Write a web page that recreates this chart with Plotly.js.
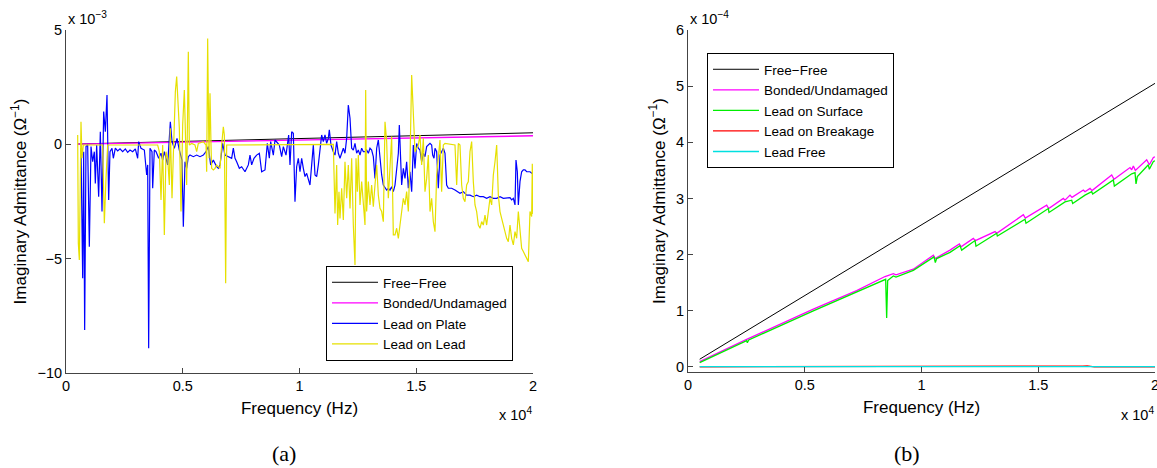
<!DOCTYPE html>
<html>
<head>
<meta charset="utf-8">
<script src="https://cdn.plot.ly/plotly-3.0.1.min.js"></script>
<style>
  html, body { margin: 0; padding: 0; background: #fff; }
  #chart { width: 1157px; height: 468px; }
</style>
</head>
<body>
<div id="chart"></div>
<script>
// Imaginary admittance spectra of the PZT sensor, (a) plate / lead cases, (b) bonding states.

// Shared reference curves, units of 1e-4 S
const freeFreeHz = [500, 5000, 10000, 15000, 20000];
const freeFree   = [0.137, 1.27, 2.53, 3.79, 5.05];

const bondedHz = [500, 2512, 5367, 7223, 8437, 8794, 8908, 9650, 10507, 10578,
                  11221, 11621, 11692, 12220, 12306, 13148, 13220, 14362, 14447, 15361,
                  15447, 16075, 16146, 16360, 16446, 16931, 17003, 17217, 17303, 18145,
                  18245, 18930, 19002, 19073, 19159, 19644, 19758, 19930, 20000];
const bonded   = [0.095, 0.49, 1.03, 1.36, 1.61, 1.66, 1.64, 1.74, 1.99, 1.93,
                  2.08, 2.19, 2.14, 2.29, 2.25, 2.41, 2.38, 2.71, 2.65, 2.88,
                  2.82, 3.00, 2.97, 3.06, 3.02, 3.15, 3.12, 3.18, 3.14, 3.42,
                  3.34, 3.55, 3.51, 3.58, 3.50, 3.69, 3.60, 3.73, 3.74];

// Panel (b) only, units of 1e-4 S
const leadSurfaceHz = [500, 2512, 2541, 2600, 5367, 7223, 8465, 8508, 8551, 8794,
                       8908, 9650, 10535, 10592, 10650, 11221, 11649, 11721, 12292, 12334,
                       13220, 13248, 14433, 14476, 15432, 15461, 16146, 16432, 16475, 17003,
                       17288, 17331, 18216, 18259, 19002, 19144, 19187, 19244, 19715, 19758,
                       19930, 20000];
const leadSurface   = [0.077, 0.47, 0.43, 0.48, 1.00, 1.34, 1.56, 0.87, 1.54, 1.62,
                       1.60, 1.72, 1.96, 1.86, 1.93, 2.04, 2.16, 2.08, 2.25, 2.15,
                       2.38, 2.33, 2.63, 2.56, 2.82, 2.75, 2.94, 2.97, 2.91, 3.06,
                       3.12, 3.08, 3.33, 3.22, 3.44, 3.46, 3.26, 3.39, 3.60, 3.52,
                       3.66, 3.67];

const leadBreakageHz = [500, 16800, 16900, 17100, 17300, 17400, 20000];
const leadBreakage   = [0.003, 0.003, 0.015, 0.02, 0.012, 0.003, 0.003];

const leadFreeHz = [500, 10000, 20000];
const leadFree   = [0.005, 0.006, 0.006];

// Panel (a) only, units of 1e-3 S
const leadPlateHz = [
  642, 714, 757, 799, 857, 928, 999, 1071, 1142, 1213,
  1256, 1313, 1399, 1470, 1542, 1613, 1685, 1756, 1827, 1884,
  1970, 2027, 2113, 2213, 2313, 2427, 2541, 2641, 2741, 2855,
  2969, 3069, 3112, 3212, 3355, 3455, 3498, 3540, 3598, 3683,
  3712, 3783, 3855, 3969, 4069, 4140, 4211, 4354, 4468, 4540,
  4640, 4754, 4854, 4968, 5025, 5096, 5168, 5239, 5310, 5453,
  5596, 5739, 5881, 5996, 6095, 6195, 6310, 6452, 6524, 6595,
  6667, 6709, 6809, 6952, 7095, 7166, 7238, 7309, 7423, 7523,
  7666, 7809, 7880, 7951, 8051, 8165, 8280, 8380, 8522, 8622,
  8708, 8765, 8879, 8951, 9022, 9136, 9236, 9308, 9422, 9479,
  9536, 9593, 9665, 9736, 9807, 9878, 9950, 10021, 10093, 10164,
  10235, 10307, 10378, 10449, 10521, 10592, 10664, 10735, 10806, 10878,
  10949, 11020, 11092, 11163, 11235, 11277, 11349, 11449, 11520, 11592,
  11663, 11734, 11806, 11877, 11948, 12020, 12091, 12163, 12234, 12305,
  12377, 12448, 12519, 12591, 12662, 12734, 12805, 12876, 12948, 13019,
  13090, 13162, 13233, 13305, 13376, 13447, 13519, 13590, 13662, 13733,
  13804, 13876, 13947, 14018, 14090, 14161, 14233, 14275, 14332, 14375,
  14447, 14518, 14589, 14661, 14732, 14804, 14875, 14946, 15018, 15089,
  15160, 15232, 15303, 15374, 15446, 15517, 15589, 15660, 15703, 15760,
  15803, 15874, 15945, 16017, 16088, 16160, 16231, 16302, 16374, 16517,
  16659, 16802, 16873, 17016, 17159, 17302, 17444, 17587, 17730, 17873,
  18015, 18158, 18301, 18444, 18587, 18729, 18872, 19015, 19086, 19158,
  19229, 19272, 19329, 19372, 19443, 19514, 19586, 19657, 19729, 19872,
  19957, 20000];
const leadPlate = [
  -0.17, -5.86, -0.32, -8.12, -0.10, -0.03, -4.48, -0.10, -0.76, -0.32,
  -1.71, -0.03, -2.29, 0.55, -2.94, 1.43, 0.55, 2.16, -2.43, -0.32,
  -0.17, -0.61, -0.17, -0.29, -0.20, -0.32, -0.20, -0.35, -0.25, -0.32,
  -0.20, -0.61, 0.12, -0.17, -0.25, -1.34, -0.90, -8.92, -0.17, -0.32,
  -1.92, -0.25, -0.32, -0.61, -0.39, -0.69, -0.32, -0.90, 0.99, 0.12,
  -0.17, 0.26, -0.25, -0.69, -3.60, -0.76, -1.05, -0.54, -0.47, -0.54,
  -0.47, -0.54, -0.47, -0.32, -0.10, -0.90, -0.69, -0.98, -1.05, -0.90,
  -0.32, 0.04, -0.47, -0.54, -0.61, -0.17, -0.61, -0.76, -1.05, -0.98,
  -1.20, -0.90, -0.47, -0.90, -0.61, -0.47, -0.39, -1.20, -1.12, 0.04,
  -0.61, 0.12, -0.47, 0.19, 0.12, -0.03, -0.54, -0.10, -0.47, -0.03,
  0.41, -0.90, 0.55, 0.48, -2.51, -0.98, -0.61, -1.20, -0.61, -1.05,
  -1.41, -1.27, -1.56, -1.78, -0.90, -0.03, -1.34, -1.41, -0.90, -0.32,
  0.41, 0.12, 0.41, 0.04, 0.26, 0.63, -0.03, -0.32, -0.47, 0.12,
  -0.39, -0.61, -0.39, -0.17, -0.39, 0.26, 1.72, 1.14, -0.17, -0.25,
  0.04, -0.39, -0.25, -0.47, -0.17, -0.32, -0.32, -0.25, -0.39, -0.17,
  -0.25, -0.54, -1.49, -0.17, 0.19, -0.76, -1.34, -1.78, -1.92, -2.00,
  -1.92, -2.00, -1.85, -2.07, -1.78, -1.20, -0.39, 0.85, -0.61, -1.78,
  -1.05, -1.49, -0.76, -1.92, -1.20, -2.07, -0.03, -1.05, 0.04, -0.17,
  -0.25, -0.76, -0.39, -0.54, -0.10, -0.03, 0.04, -0.03, -0.47, -0.61,
  -0.17, -0.32, -1.92, -0.47, -0.32, -0.17, -0.39, -1.78, -1.92, -1.92,
  -2.00, -2.07, -2.14, -2.07, -2.22, -2.22, -2.29, -2.22, -2.29, -2.29,
  -2.36, -2.29, -2.36, -2.36, -2.29, -2.36, -2.36, -2.33, -2.43, -2.36,
  -2.65, -0.69, -1.20, -2.65, -1.63, -1.20, -1.12, -1.12, -1.20, -1.20,
  -1.27, -1.25];

const leadLeadHz = [
  500, 528, 571, 614, 642, 685, 742, 1570, 1642, 1713,
  1785, 3926, 3997, 4069, 4140, 4211, 4283, 4354, 4426, 4468,
  4540, 4597, 4640, 4683, 4740, 4854, 4925, 4997, 5068, 5168,
  5239, 5282, 5382, 5524, 5596, 5667, 5881, 5996, 6024, 6067,
  6124, 6167, 6210, 6238, 6310, 6381, 6452, 6595, 6667, 6738,
  6781, 6838, 6881, 11449, 11520, 11592, 11634, 11691, 11734, 11806,
  11877, 11948, 12020, 12091, 12163, 12234, 12305, 12377, 12420, 12477,
  12519, 12591, 12662, 12734, 12805, 12834, 12876, 12948, 13019, 13090,
  13162, 13233, 13305, 13376, 13447, 13519, 13590, 13662, 13733, 13804,
  13876, 13947, 14018, 14090, 14161, 14233, 14304, 14375, 14447, 14518,
  14589, 14661, 14732, 14804, 14875, 14946, 15018, 15089, 15160, 15232,
  15303, 15374, 15446, 15517, 15589, 15660, 15731, 15803, 15874, 15945,
  16017, 16088, 16160, 16231, 16659, 16731, 16802, 16873, 16945, 17016,
  17087, 17159, 17230, 17302, 17373, 17444, 17516, 17587, 17659, 17730,
  17801, 17873, 17944, 18015, 18087, 18158, 18230, 18301, 18372, 18444,
  18515, 18587, 18658, 18729, 18801, 18872, 18943, 19015, 19086, 19158,
  19229, 19300, 19372, 19443, 19514, 19586, 19657, 19729, 19800, 19872,
  19943, 19970, 20000];
const leadLead = [
  0.41, -4.33, -5.06, -0.32, 0.99, -0.61, -0.03, -0.03, -3.45, -1.49,
  -0.03, -0.03, -0.32, -2.43, -0.03, -3.96, -0.32, -0.61, -1.78, 0.70,
  -2.36, -0.47, 1.14, 2.30, 2.96, 0.70, -2.94, 0.85, 2.38, -1.78,
  4.05, -0.03, 0.04, -0.03, -0.32, 0.04, 0.12, -0.03, -1.20, 4.63,
  -0.61, 2.23, -0.03, -1.05, -1.12, -1.05, -0.90, -1.05, -0.03, 0.77,
  0.41, -6.08, -0.03, 0.00, -3.02, -0.90, -3.53, -2.07, -3.24, -1.92,
  -3.31, -0.76, -2.36, -0.90, -2.80, -0.61, -3.53, -5.28, -0.61, -2.07,
  -0.47, -2.65, -1.63, -2.80, -3.53, 2.38, -2.94, -1.63, -2.65, -1.78,
  -2.73, -1.78, -0.90, -2.22, -2.80, -2.94, -3.38, 0.99, 0.12, -2.36,
  -0.90, 0.34, -3.96, -3.96, -3.67, -4.11, -3.53, -2.94, -2.36, -2.65,
  -2.07, -2.94, -0.76, 3.03, 0.99, -0.32, -0.17, -0.03, 0.41, -0.90,
  0.26, -2.07, -1.49, -0.47, -2.94, -2.36, -3.38, -3.82, -1.34, -0.47,
  0.19, -2.07, -0.03, 0.04, -0.03, -1.78, 0.04, -0.03, -1.78, -2.36,
  -2.51, -1.78, -1.63, -0.32, 0.12, -1.63, -2.65, -2.94, -3.53, -3.67,
  -3.38, -3.53, -3.09, -3.53, -2.94, -2.36, -2.65, -1.34, -0.76, -0.03,
  -2.22, -2.94, -3.24, -3.53, -3.82, -4.11, -4.26, -3.53, -4.11, -4.40,
  -3.82, -4.11, -2.94, -3.82, -4.55, -4.69, -4.84, -4.98, -5.13, -2.94,
  -3.16, -0.85, -3.05];

const freqTicks = [0, 5000, 10000, 15000, 20000];
const freqTickText = ['0', '0.5', '1', '1.5', '2'];
const leftTicks = [-10, -5, 0, 5];
const leftTickText = ['\u221210', '\u22125', '0', '5'];
const rightTicks = [0, 1, 2, 3, 4, 5, 6];
const rightTickText = ['0', '1', '2', '3', '4', '5', '6'];

const FONT = 'Liberation Sans, Arial, sans-serif';
const AXIS_COLOR = '#444';

// curves in 1e-4 S shown on the 1e-3 S axis of panel (a)
const toMilli = arr => arr.map(v => v / 10);

function line(name, x, y, color, xa, ya, legend, width) {
  return {
    type: 'scatter', mode: 'lines', name: name, x: x, y: y,
    xaxis: xa, yaxis: ya, legend: legend,
    line: { color: color, width: width || 1 }, hoverinfo: 'skip'
  };
}

const traces = [
  line('Free\u2212Free', freeFreeHz, toMilli(freeFree), '#000000', 'x', 'y', 'legend', 1),
  line('Bonded/Undamaged', bondedHz, toMilli(bonded), '#ff00ff', 'x', 'y', 'legend', 1.4),
  line('Lead on Plate', leadPlateHz, leadPlate, '#0000ff', 'x', 'y', 'legend', 1.2),
  line('Lead on Lead', leadLeadHz, leadLead, '#e6e000', 'x', 'y', 'legend', 1.2),

  line('Free\u2212Free', freeFreeHz, freeFree, '#000000', 'x2', 'y2', 'legend2', 1),
  line('Bonded/Undamaged', bondedHz, bonded, '#ff00ff', 'x2', 'y2', 'legend2', 1.3),
  line('Lead on Surface', leadSurfaceHz, leadSurface, '#00ee00', 'x2', 'y2', 'legend2', 1.3),
  line('Lead on Breakage', leadBreakageHz, leadBreakage, '#ff0000', 'x2', 'y2', 'legend2', 1.3),
  line('Lead Free', leadFreeHz, leadFree, '#00e0e0', 'x2', 'y2', 'legend2', 1.3)
];

const W = 1157, H = 468;
const px = v => v / W;
const py = v => (H - v) / H;

function xAxis(domain, titleText) {
  return {
    domain: domain, range: [0, 20000], fixedrange: true,
    tickvals: freqTicks, ticktext: freqTickText,
    ticks: 'inside', ticklen: 5, tickcolor: AXIS_COLOR, tickwidth: 1,
    ticklabeloverflow: 'allow',
    showline: true, linecolor: AXIS_COLOR, linewidth: 1,
    showgrid: false, zeroline: false,
    tickfont: { family: FONT, size: 14.5, color: '#000' },
    title: { text: titleText, font: { family: FONT, size: 17, color: '#000' }, standoff: 8 }
  };
}
function yAxis(domain, range, vals, text, anchor) {
  return {
    domain: domain, range: range, fixedrange: true, anchor: anchor,
    tickvals: vals, ticktext: text,
    ticks: 'inside', ticklen: 5, tickcolor: AXIS_COLOR, tickwidth: 1,
    showline: true, linecolor: AXIS_COLOR, linewidth: 1,
    showgrid: false, zeroline: false,
    tickfont: { family: FONT, size: 14.5, color: '#000' },
    title: { text: 'Imaginary Admittance (\u03a9<sup>\u22121</sup>)',
             font: { family: FONT, size: 17, color: '#000' }, standoff: 6 }
  };
}

const legendStyle = (x, y) => ({
  x: px(x), y: py(y), xanchor: 'left', yanchor: 'top',
  bgcolor: '#ffffff', bordercolor: '#000000', borderwidth: 1,
  font: { family: FONT, size: 13.5, color: '#000' },
  itemwidth: 46, tracegroupgap: 0
});

function note(text, x, y, xanchor, size, family) {
  return {
    text: text, xref: 'paper', yref: 'paper', x: px(x), y: py(y),
    xanchor: xanchor, yanchor: 'middle', showarrow: false,
    font: { family: family || FONT, size: size || 14.5, color: '#000' }
  };
}

const layout = {
  width: W, height: H,
  margin: { l: 0, r: 0, t: 0, b: 0 },
  paper_bgcolor: '#ffffff', plot_bgcolor: '#ffffff',
  showlegend: true,
  xaxis: Object.assign(xAxis([px(66), px(533)], 'Frequency (Hz)'), { anchor: 'y' }),
  yaxis: yAxis([py(373), py(30)], [-10, 5], leftTicks, leftTickText, 'x'),
  xaxis2: Object.assign(xAxis([px(688), px(1155)], 'Frequency (Hz)'), { anchor: 'y2' }),
  yaxis2: yAxis([py(372), py(30)], [-0.09, 6], rightTicks, rightTickText, 'x2'),
  legend: legendStyle(326, 266),
  legend2: legendStyle(707, 53),
  annotations: [
    note('x 10<sup>\u22123</sup>', 66, 18, 'left'),
    note('x 10<sup>\u22124</sup>', 688, 18, 'left'),
    note('x 10<sup>4</sup>', 534, 414, 'right'),
    note('x 10<sup>4</sup>', 1156, 414, 'right'),
    note('(a)', 284, 453, 'center', 22, 'Liberation Serif, Times New Roman, serif'),
    note('(b)', 907, 453, 'center', 22, 'Liberation Serif, Times New Roman, serif')
  ]
};

Plotly.newPlot('chart', traces, layout, { staticPlot: true, displayModeBar: false });
</script>
</body>
</html>
